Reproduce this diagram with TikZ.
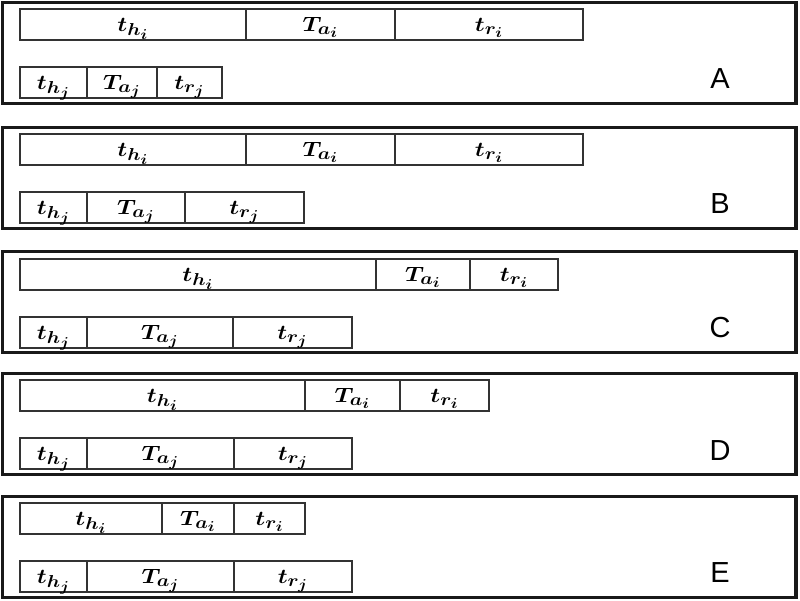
\documentclass[tikz,border=0pt]{standalone}
\usepackage{graphicx}
\usepackage{fontspec}
\newfontfamily\lblfont{Liberation Sans}
\DeclareMathSizes{21}{21}{18}{14.5}
\tikzset{
  frame/.style={draw=black!90, line width=3.5pt},
  seg/.style={draw=black!80, line width=1.1pt, rectangle, inner sep=0pt, minimum height=31pt,
    text height=16pt, text depth=3pt,
    font=\fontsize{21}{21}\selectfont\boldmath},
  lbl/.style={anchor=base, inner sep=0pt, font=\fontsize{29}{29}\selectfont\lblfont},
}
\newcommand{\mybar}[5]{%
  \node[seg, minimum width={(#3-#2)*1pt}] (#1) at ({(#2+#3)/2},{#4+15.5}) {\scalebox{1.15}[1]{$#5$}};}
\begin{document}
\begin{tikzpicture}[x=1pt,y=-1pt]
\useasboundingbox (0,0) rectangle (800,600);
% frames
\draw[frame] (2.5,2.5) rectangle (796,103.5);
\draw[frame] (2.5,127.5) rectangle (796,228.5);
\draw[frame] (2.5,251.7) rectangle (796,352.5);
\draw[frame] (2.5,373.3) rectangle (796,474.3);
\draw[frame] (2.5,496.7) rectangle (796,597.3);
% A
\mybar{Ahi}{20}{246}{9}{t_{h_i}}
\mybar{Aai}{246}{395}{9}{T_{a_i}}
\mybar{Ari}{395}{583}{9}{t_{r_i}}
\mybar{Ahj}{20}{87}{67}{t_{h_j}}
\mybar{Aaj}{87}{157}{67}{T_{a_j}}
\mybar{Arj}{157}{222}{67}{t_{r_j}}
\node[lbl] (LA) at (720,88) {A};
% B
\mybar{Bhi}{20}{246}{134}{t_{h_i}}
\mybar{Bai}{246}{395}{134}{T_{a_i}}
\mybar{Bri}{395}{583}{134}{t_{r_i}}
\mybar{Bhj}{20}{87}{192}{t_{h_j}}
\mybar{Baj}{87}{185}{192}{T_{a_j}}
\mybar{Brj}{185}{304}{192}{t_{r_j}}
\node[lbl] (LB) at (720,213) {B};
% C
\mybar{Chi}{20}{376}{259}{t_{h_i}}
\mybar{Cai}{376}{470}{259}{T_{a_i}}
\mybar{Cri}{470}{558}{259}{t_{r_i}}
\mybar{Chj}{20}{87}{317}{t_{h_j}}
\mybar{Caj}{87}{233}{317}{T_{a_j}}
\mybar{Crj}{233}{352}{317}{t_{r_j}}
\node[lbl] (LC) at (720,337) {C};
% D
\mybar{Dhi}{20}{305}{380}{t_{h_i}}
\mybar{Dai}{305}{400}{380}{T_{a_i}}
\mybar{Dri}{400}{489}{380}{t_{r_i}}
\mybar{Dhj}{20}{87}{438}{t_{h_j}}
\mybar{Daj}{87}{234}{438}{T_{a_j}}
\mybar{Drj}{234}{352}{438}{t_{r_j}}
\node[lbl] (LD) at (720,460) {D};
% E
\mybar{Ehi}{20}{162}{503}{t_{h_i}}
\mybar{Eai}{162}{234}{503}{T_{a_i}}
\mybar{Eri}{234}{305}{503}{t_{r_i}}
\mybar{Ehj}{20}{87}{561}{t_{h_j}}
\mybar{Eaj}{87}{234}{561}{T_{a_j}}
\mybar{Erj}{234}{352}{561}{t_{r_j}}
\node[lbl] (LE) at (720,582.5) {E};
\end{tikzpicture}
\end{document}
